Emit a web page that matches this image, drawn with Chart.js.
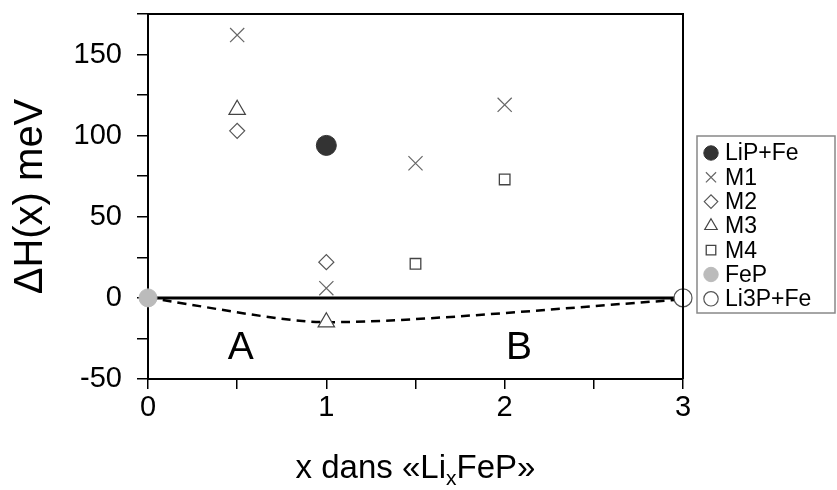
<!DOCTYPE html>
<html>
<head>
<meta charset="utf-8">
<script src="https://cdn.jsdelivr.net/npm/chart.js@4/dist/chart.umd.min.js"></script>
<style>
  html, body { margin: 0; padding: 0; background: #fff; }
  #wrap { width: 837px; height: 490px; }
</style>
</head>
<body>
<div id="wrap"><canvas id="c" width="837" height="490"></canvas></div>
<script>
// values
const seriesNames = ["LiP+Fe", "M1", "M2", "M3", "M4", "FeP", "Li3P+Fe"];
const lipX = [1], lipY = [94];
const m1X = [0.5, 1, 1.5, 2], m1Y = [162, 6, 83, 119];
const m2X = [0.5, 1], m2Y = [103, 22];
const m3X = [0.5, 1], m3Y = [116, -15];
const m4X = [1.5, 2], m4Y = [21, 73];
const fepX = [0], fepY = [0];
const li3pX = [3], li3pY = [0];
const zeroX = [0, 3], zeroY = [0, 0];
const hullX = [0, 1, 3], hullY = [0, -15, -1];
const xTicks = [0, 1, 2, 3];
const yTicks = [-50, 0, 50, 100, 150];
const regionLabels = ["A", "B"];
const regionX = [0.52, 2.08], regionY = [-31, -31];

const pts = (xs, ys) => xs.map((x, i) => ({ x: x, y: ys[i] }));
const FONT = "'Liberation Sans', Arial, sans-serif";

const markerSets = [
  { label: seriesNames[0], data: pts(lipX, lipY), pointStyle: "circle", pointRadius: 10,
    backgroundColor: "#333", borderColor: "#333", pointBorderWidth: 1 },
  { label: seriesNames[1], data: pts(m1X, m1Y), pointStyle: "crossRot", pointRadius: 10,
    backgroundColor: "#666", borderColor: "#666", pointBorderWidth: 1.2 },
  { label: seriesNames[2], data: pts(m2X, m2Y), pointStyle: "rectRot", pointRadius: 7.5,
    backgroundColor: "#fff", borderColor: "#555", pointBorderWidth: 1.2 },
  { label: seriesNames[3], data: pts(m3X, m3Y), pointStyle: "triangle", pointRadius: 9.5,
    backgroundColor: "#fff", borderColor: "#444", pointBorderWidth: 1.2 },
  { label: seriesNames[4], data: pts(m4X, m4Y), pointStyle: "rect", pointRadius: 7.5,
    backgroundColor: "#fff", borderColor: "#444", pointBorderWidth: 1.3 },
  { label: seriesNames[5], data: pts(fepX, fepY), pointStyle: "circle", pointRadius: 9,
    backgroundColor: "#bbb", borderColor: "#bbb", pointBorderWidth: 1 },
  { label: seriesNames[6], data: pts(li3pX, li3pY), pointStyle: "circle", pointRadius: 9,
    backgroundColor: "#fff", borderColor: "#555", pointBorderWidth: 1.2 }
].map(d => Object.assign({ type: "scatter", showLine: false, clip: false, order: 0,
  pointHoverRadius: d.pointRadius }, d));

const lineSets = [
  { label: "zero", data: pts(zeroX, zeroY), type: "line", borderColor: "#000", borderWidth: 3,
    pointRadius: 0, fill: false, order: 10, clip: false },
  { label: "hull", data: pts(hullX, hullY), type: "line", borderColor: "#000", borderWidth: 2.5,
    borderDash: [9, 6], tension: 0.25, pointRadius: 0, fill: false, order: 9, clip: false }
];

const decor = {
  id: "decor",
  afterDraw(chart) {
    const ctx = chart.ctx, a = chart.chartArea;
    const xs = chart.scales.x, ys = chart.scales.y;
    ctx.save();
    // frame top and right
    ctx.strokeStyle = "#000";
    ctx.lineWidth = 2;
    ctx.beginPath();
    ctx.moveTo(a.left, a.top);
    ctx.lineTo(a.right, a.top);
    ctx.lineTo(a.right, a.bottom);
    ctx.stroke();

    // region letters
    ctx.fillStyle = "#000";
    ctx.font = "39px " + FONT;
    ctx.textAlign = "center";
    ctx.textBaseline = "middle";
    regionLabels.forEach((t, i) => {
      ctx.fillText(t, xs.getPixelForValue(regionX[i]), ys.getPixelForValue(regionY[i]));
    });

    // x title with subscript
    const big = "33px " + FONT, small = "21px " + FONT;
    const p1 = "x dans \u00abLi", sub = "x", p2 = "FeP\u00bb";
    ctx.font = big; const w1 = ctx.measureText(p1).width, w3 = ctx.measureText(p2).width;
    ctx.font = small; const w2 = ctx.measureText(sub).width;
    let x0 = (a.left + a.right) / 2 - (w1 + w2 + w3) / 2;
    const yb = 478;
    ctx.textAlign = "left";
    ctx.textBaseline = "alphabetic";
    ctx.font = big; ctx.fillText(p1, x0, yb); x0 += w1;
    ctx.font = small; ctx.fillText(sub, x0, yb + 7); x0 += w2;
    ctx.font = big; ctx.fillText(p2, x0, yb);

    // legend
    const lx = 697, ly = 136, lw = 138, lh = 177;
    ctx.fillStyle = "#fff";
    ctx.fillRect(lx, ly, lw, lh);
    ctx.strokeStyle = "#888";
    ctx.lineWidth = 1.5;
    ctx.strokeRect(lx, ly, lw, lh);
    const step = 24.3;
    ctx.font = "23px " + FONT;
    ctx.textBaseline = "middle";
    markerSets.forEach((d, i) => {
      const cy = ly + 17 + i * step;
      const r = Math.min(d.pointRadius, 8) * 0.9;
      ctx.fillStyle = d.backgroundColor;
      ctx.strokeStyle = d.borderColor;
      ctx.lineWidth = d.pointBorderWidth;
      Chart.helpers.drawPoint(ctx, { pointStyle: d.pointStyle, radius: r, borderWidth: d.pointBorderWidth, rotation: 0 }, lx + 14, cy);
      ctx.fillStyle = "#000";
      ctx.fillText(d.label, lx + 28, cy + 1);
    });
    ctx.restore();
  }
};

new Chart(document.getElementById("c"), {
  data: { datasets: lineSets.concat(markerSets) },
  options: {
    responsive: false,
    animation: false,
    events: [],
    layout: { padding: { top: 14, right: 154, left: 0, bottom: 0 } },
    plugins: { legend: { display: false }, tooltip: { enabled: false } },
    scales: {
      x: {
        type: "linear", min: 0, max: 3,
        afterFit: s => { s.height = 111; s.paddingLeft = 0; s.paddingRight = 0; },
        border: { color: "#000", width: 2 },
        grid: { drawOnChartArea: false, color: "#000", tickLength: 10, lineWidth: 1.5 },
        ticks: {
          stepSize: 0.5, color: "#000", padding: 2,
          font: { size: 29, family: FONT },
          callback: v => xTicks.includes(v) ? String(v) : ""
        }
      },
      y: {
        type: "linear", min: -50, max: 175,
        afterFit: s => { s.width = 148; s.paddingTop = 0; s.paddingBottom = 0; },
        border: { color: "#000", width: 2 },
        grid: { drawOnChartArea: false, color: "#000", tickLength: 11, lineWidth: 1.5 },
        title: { display: true, text: "\u0394H(x) meV", color: "#000",
          font: { size: 40, family: FONT }, padding: { top: 7, bottom: 0 } },
        ticks: {
          stepSize: 25, color: "#000", padding: 15,
          font: { size: 29, family: FONT },
          callback: v => yTicks.includes(v) ? String(v) : ""
        }
      }
    }
  },
  plugins: [decor]
});
</script>
</body>
</html>
